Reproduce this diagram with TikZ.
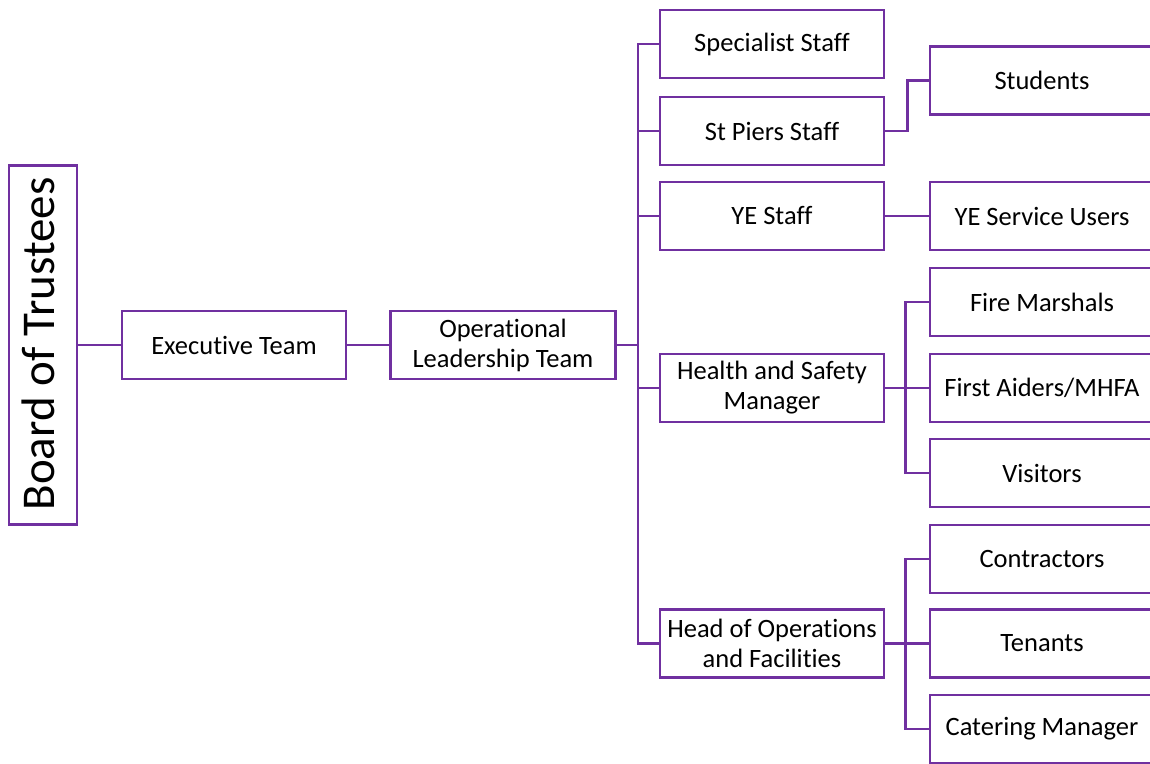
\documentclass[tikz,border=0pt]{standalone}
\usepackage{fontspec}
\setmainfont{Carlito}[Ligatures=NoCommon]
\definecolor{orgpurple}{RGB}{112,48,160}
\begin{document}
\begin{tikzpicture}[x=1pt,y=-1pt,
  box/.style={draw=orgpurple,line width=2.6pt,fill=white,minimum width=224pt,minimum height=68pt,inner sep=0pt,align=center,font=\fontsize{26.5}{30}\selectfont},
  link/.style={draw=orgpurple,line width=2.6pt}]
\useasboundingbox (0,0) rectangle (1150,763);
\clip (0,0) rectangle (1150,763);
\fill[white] (0,0) rectangle (1150,763);
% nodes
\node[box,minimum width=68pt,minimum height=359pt] (board) at (43,345) {};
\node[rotate=90,font=\fontsize{47}{50}\selectfont,inner sep=0pt] (boardtxt) at (38,344) {Board of Trustees};
\node[box] (exec) at (234,345) {Executive Team};
\node[box,minimum width=225pt] (olt) at (503,345) {Operational\\Leadership Team};
\node[box] (spec) at (772,44) {Specialist Staff};
\node[box] (stp) at (772,131) {St Piers Staff};
\node[box] (ye) at (772,216) {YE Staff};
\node[box] (hs) at (772,388) {Health and Safety\\Manager};
\node[box] (hoo) at (772,643.5) {Head of Operations\\and Facilities};
\node[box] (students) at (1042,80.5) {Students};
\node[box] (yesu) at (1042,216) {YE Service Users};
\node[box] (fire) at (1042,302) {Fire Marshals};
\node[box] (first) at (1042,388) {First Aiders/MHFA};
\node[box] (vis) at (1042,473) {Visitors};
\node[box] (cont) at (1042,559) {Contractors};
\node[box] (ten) at (1042,643.5) {Tenants};
\node[box] (cat) at (1042,729) {Catering Manager};
% connectors
\coordinate (tr) at (638,345);
\draw[link] (board.east) -- (exec.west);
\draw[link] (exec.east) -- (olt.west);
\draw[link] (olt.east) -- (tr);
\draw[link] (spec.west) -| (tr |- hoo.west) -- (hoo.west);
\draw[link] (tr |- stp.west) -- (stp.west);
\draw[link] (tr |- ye.west) -- (ye.west);
\draw[link] (tr |- hs.west) -- (hs.west);
\draw[link] (stp.east) -- ++(22,0) |- (students.west);
\draw[link] (ye.east) -- (yesu.west);
\draw[link] (fire.west) -- ++(-23,0) |- (vis.west);
\draw[link] (hs.east) -- (first.west);
\draw[link] (cont.west) -- ++(-23,0) |- (cat.west);
\draw[link] (hoo.east) -- (ten.west);
\end{tikzpicture}
\end{document}
